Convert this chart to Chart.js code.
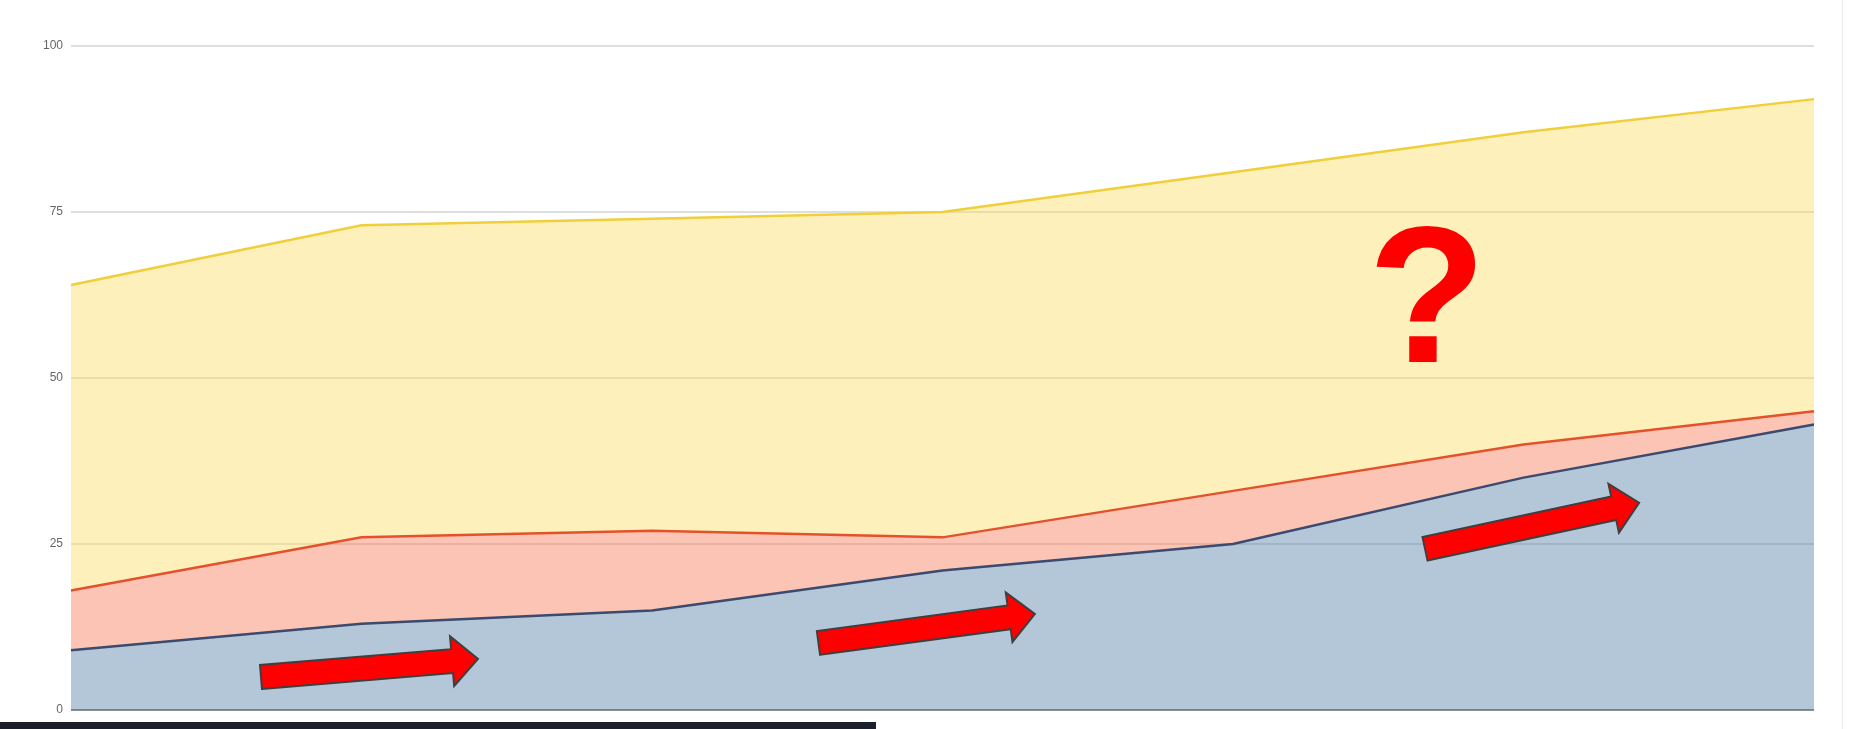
<!DOCTYPE html>
<html>
<head>
<meta charset="utf-8">
<script src="https://cdn.jsdelivr.net/npm/chart.js@4/dist/chart.umd.min.js"></script>
<style>
  html, body { margin: 0; padding: 0; background: #ffffff; overflow: hidden; }
  #wrap { position: relative; width: 1853px; height: 729px; }
  canvas { display: block; }
</style>
</head>
<body>
<div id="wrap"><canvas id="c" width="1853" height="729"></canvas></div>
<script>
// ---- data ----
const categories = ['1', '2', '3', '4', '5', '6', '7'];
const seriesBlue   = [9, 13, 15, 21, 25, 35, 43];
const seriesRed    = [9, 13, 12, 5, 8, 5, 2];
const seriesYellow = [46, 47, 47, 49, 48, 47, 47];
const yTicks = [0, 25, 50, 75, 100];

// annotation anchors in data units (x = category index, y = value)
const arrows = [
  { from: [0.654, 4.98],  to: [1.401, 7.69] },
  { from: [2.573, 10.1],  to: [3.318, 14.48] },
  { from: [4.661, 24.28], to: [5.398, 31.21] }
];
const questionMark = { text: '?', at: [4.668, 52.47] };

const annotations = {
  id: 'annotations',
  afterDatasetsDraw(chart) {
    const ctx = chart.ctx;
    const xs = chart.scales.x, ys = chart.scales.y;
    ctx.save();
    arrows.forEach(a => {
      const x0 = xs.getPixelForValue(a.from[0]), y0 = ys.getPixelForValue(a.from[1]);
      const x1 = xs.getPixelForValue(a.to[0]),   y1 = ys.getPixelForValue(a.to[1]);
      const dx = x1 - x0, dy = y1 - y0, L = Math.hypot(dx, dy);
      const ux = dx / L, uy = dy / L, nx = -uy, ny = ux;
      const hw = 12, HW = 25, HL = 26;
      const bx = x1 - ux * HL, by = y1 - uy * HL;
      ctx.beginPath();
      ctx.moveTo(x0 + nx * hw, y0 + ny * hw);
      ctx.lineTo(bx + nx * hw, by + ny * hw);
      ctx.lineTo(bx + nx * HW, by + ny * HW);
      ctx.lineTo(x1, y1);
      ctx.lineTo(bx - nx * HW, by - ny * HW);
      ctx.lineTo(bx - nx * hw, by - ny * hw);
      ctx.lineTo(x0 - nx * hw, y0 - ny * hw);
      ctx.closePath();
      ctx.fillStyle = '#ff0000';
      ctx.fill();
      ctx.lineWidth = 2;
      ctx.lineJoin = 'miter';
      ctx.strokeStyle = '#3f3f3f';
      ctx.stroke();
    });
    ctx.font = 'bold 194px Arial, "Liberation Sans", sans-serif';
    ctx.fillStyle = '#ff0000';
    ctx.textAlign = 'center';
    ctx.textBaseline = 'alphabetic';
    ctx.fillText(questionMark.text,
      xs.getPixelForValue(questionMark.at[0]),
      ys.getPixelForValue(questionMark.at[1]));
    ctx.restore();
  },
  afterDraw(chart) {
    const ctx = chart.ctx;
    ctx.save();
    ctx.fillStyle = '#1b1f29';
    ctx.fillRect(0, 722, 876, 7);
    ctx.fillStyle = '#ececec';
    ctx.fillRect(1842, 0, 1, 729);
    ctx.restore();
  }
};

new Chart(document.getElementById('c'), {
  type: 'line',
  data: {
    labels: categories,
    datasets: [
      { data: seriesBlue, borderColor: '#3b4a6e', backgroundColor: 'rgba(68,115,157,0.4)',
        fill: 'origin', borderWidth: 2.5, pointRadius: 0, tension: 0 },
      { data: seriesRed, borderColor: '#e4522b', backgroundColor: 'rgba(245,107,67,0.4)',
        fill: '-1', borderWidth: 2.5, pointRadius: 0, tension: 0 },
      { data: seriesYellow, borderColor: '#f0cf3a', backgroundColor: 'rgba(250,217,85,0.4)',
        fill: '-1', borderWidth: 2.5, pointRadius: 0, tension: 0 }
    ]
  },
  options: {
    responsive: false,
    animation: false,
    devicePixelRatio: 1,
    layout: { padding: { left: 0, right: 39, top: 46, bottom: 19 } },
    plugins: { legend: { display: false }, tooltip: { enabled: false } },
    scales: {
      x: { display: false, offset: false },
      y: {
        stacked: true,
        min: 0, max: 100,
        afterFit(scale) { scale.width = 71; },
        afterBuildTicks(scale) { scale.ticks = yTicks.map(v => ({ value: v })); },
        border: { display: false },
        grid: {
          drawTicks: false,
          lineWidth: 2,
          color: c => (c.tick && c.tick.value === 0) ? '#8a8e96' : 'rgba(0,0,0,0.13)'
        },
        ticks: {
          padding: 8,
          color: '#666666',
          font: { family: '"Liberation Sans", Arial, sans-serif', size: 12 }
        }
      }
    }
  },
  plugins: [annotations]
});
</script>
</body>
</html>
